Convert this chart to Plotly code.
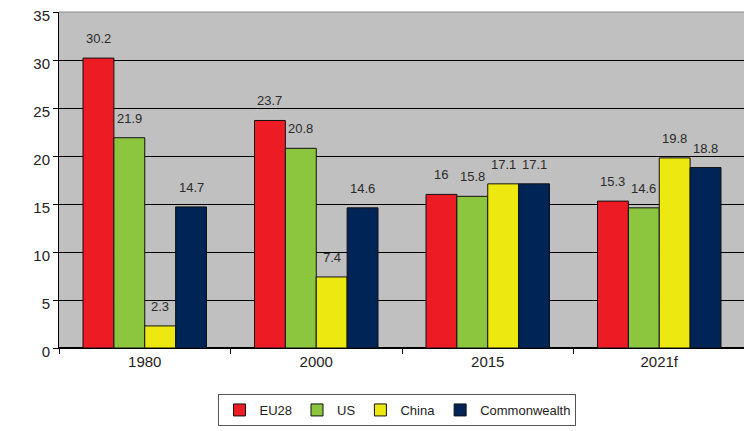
import plotly.graph_objects as go

categories = ["1980", "2000", "2015", "2021f"]
series_names = ["EU28", "US", "China", "Commonwealth"]
eu28 = [30.2, 23.7, 16, 15.3]
us = [21.9, 20.8, 15.8, 14.6]
china = [2.3, 7.4, 17.1, 19.8]
commonwealth = [14.7, 14.6, 17.1, 18.8]
colors = ["#ED1C24", "#8CC63F", "#EEE811", "#002456"]
y_ticks = [0, 5, 10, 15, 20, 25, 30, 35]

values = [eu28, us, china, commonwealth]
bargap = 0.28
n = len(series_names)
bw = (1 - bargap) / n

fig = go.Figure()
for name, vals, col in zip(series_names, values, colors):
    fig.add_trace(go.Bar(
        name=name, x=categories, y=vals,
        marker=dict(color=col, line=dict(color="#111111", width=1)),
    ))

annotations = []
for si, vals in enumerate(values):
    off = (si - (n - 1) / 2) * bw
    for ci, v in enumerate(vals):
        annotations.append(dict(
            x=ci + off, y=v, xref="x", yref="y", text=f"{v:g}",
            showarrow=False, yanchor="bottom", yshift=10,
            font=dict(family="Liberation Sans, Arial", size=13, color="#2a2a2a"),
        ))

fig.update_layout(
    width=744, height=423,
    margin=dict(l=51, r=7, t=4, b=83, autoexpand=False),
    barmode="group", bargap=bargap, bargroupgap=0,
    plot_bgcolor="#C0C0C0", paper_bgcolor="white",
    font=dict(family="Liberation Sans, Arial", color="#222222"),
    showlegend=True,
    legend=dict(orientation="h", xref="container", yref="container",
                x=0.5235, xanchor="center", y=0.0875, yanchor="top",
                bordercolor="#555555", borderwidth=1, bgcolor="white",
                font=dict(size=13, color="#222222"), traceorder="normal",
                itemwidth=30),
    annotations=annotations,
    shapes=[dict(type="path", xref="paper", yref="paper",
                 path="M 0 1 L 1 1 L 1 0", line=dict(color="#8a8a8a", width=1))],
)
fig.update_xaxes(
    type="category", showline=True, linecolor="black", linewidth=1,
    ticks="outside", tickson="boundaries", ticklen=5, tickcolor="black",
    tickfont=dict(size=15, color="#222222"), showgrid=False, automargin=False,
)
fig.update_yaxes(
    range=[0, 35], tickvals=y_ticks, showline=True, linecolor="black", linewidth=1,
    ticks="outside", ticklen=5, tickcolor="black", ticklabeloverflow="allow",
    ticklabelshift=4,
    tickfont=dict(size=15, color="#222222"), automargin=False,
    showgrid=True, gridcolor="black", gridwidth=1, zeroline=True, zerolinecolor="black",
)

fig.write_html("out.html")
